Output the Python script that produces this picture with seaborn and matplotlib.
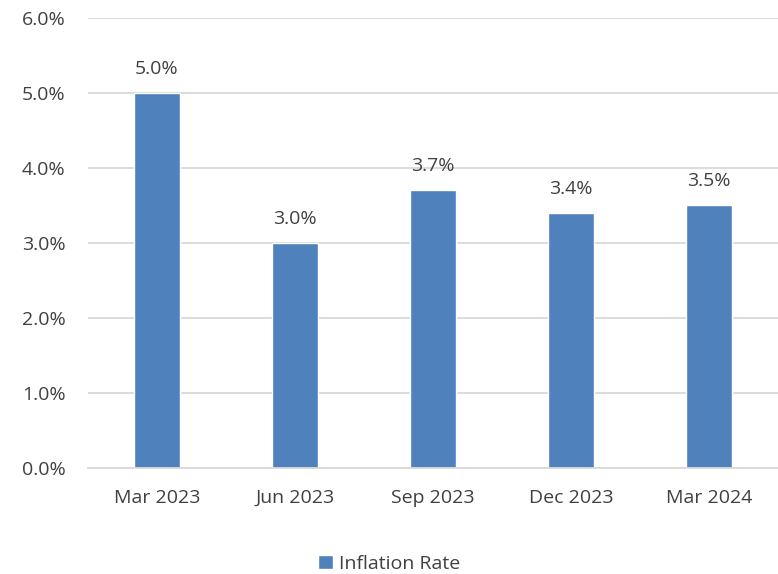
import matplotlib
matplotlib.use("Agg")
import matplotlib.pyplot as plt
import pandas as pd
import seaborn as sns
from matplotlib.ticker import PercentFormatter
from matplotlib.patches import Patch

quarters = ["Mar 2023", "Jun 2023", "Sep 2023", "Dec 2023", "Mar 2024"]
inflation = [5.0, 3.0, 3.7, 3.4, 3.5]

df = pd.DataFrame({"Quarter": quarters, "Inflation Rate": inflation})

sns.set_style("white")
plt.rcParams["font.family"] = ["Open Sans", "DejaVu Sans"]

bar_color = "#4F81BD"
text_color = "#404040"

fig = plt.figure(figsize=(7.78, 5.74), dpi=100)
ax = fig.add_axes([0.113, 0.185, 0.887, 0.784])

sns.barplot(data=df, x="Quarter", y="Inflation Rate", color=bar_color,
            width=0.33, saturation=1, ax=ax)

ax.set_ylim(0, 6)
ax.set_yticks([0, 1, 2, 3, 4, 5, 6])
ax.yaxis.set_major_formatter(PercentFormatter(decimals=1))
ax.grid(axis="y", color="#D9D9D9", linewidth=1.3)
ax.set_axisbelow(True)
for s in ["top", "right", "left"]:
    ax.spines[s].set_visible(False)
ax.spines["bottom"].set_color("#D9D9D9")
ax.spines["bottom"].set_linewidth(1.3)
ax.tick_params(axis="both", length=0, labelsize=14, colors=text_color)
ax.tick_params(axis="y", pad=16)
ax.tick_params(axis="x", pad=15)
ax.set_xlabel("")
ax.set_ylabel("")

for i, v in enumerate(inflation):
    ax.annotate(f"{v:.1f}%", (i, v), xytext=(0, 11), textcoords="offset points",
                ha="center", va="bottom", fontsize=14, color=text_color)

handles = [Patch(facecolor=bar_color, label="Inflation Rate")]
fig.legend(handles=handles, loc="center", bbox_to_anchor=(0.5, 0.018),
           frameon=False, fontsize=14, handlelength=0.75, handleheight=0.75,
           handletextpad=0.3, labelcolor=text_color, borderpad=0)

fig.savefig("out.png", dpi=100)
